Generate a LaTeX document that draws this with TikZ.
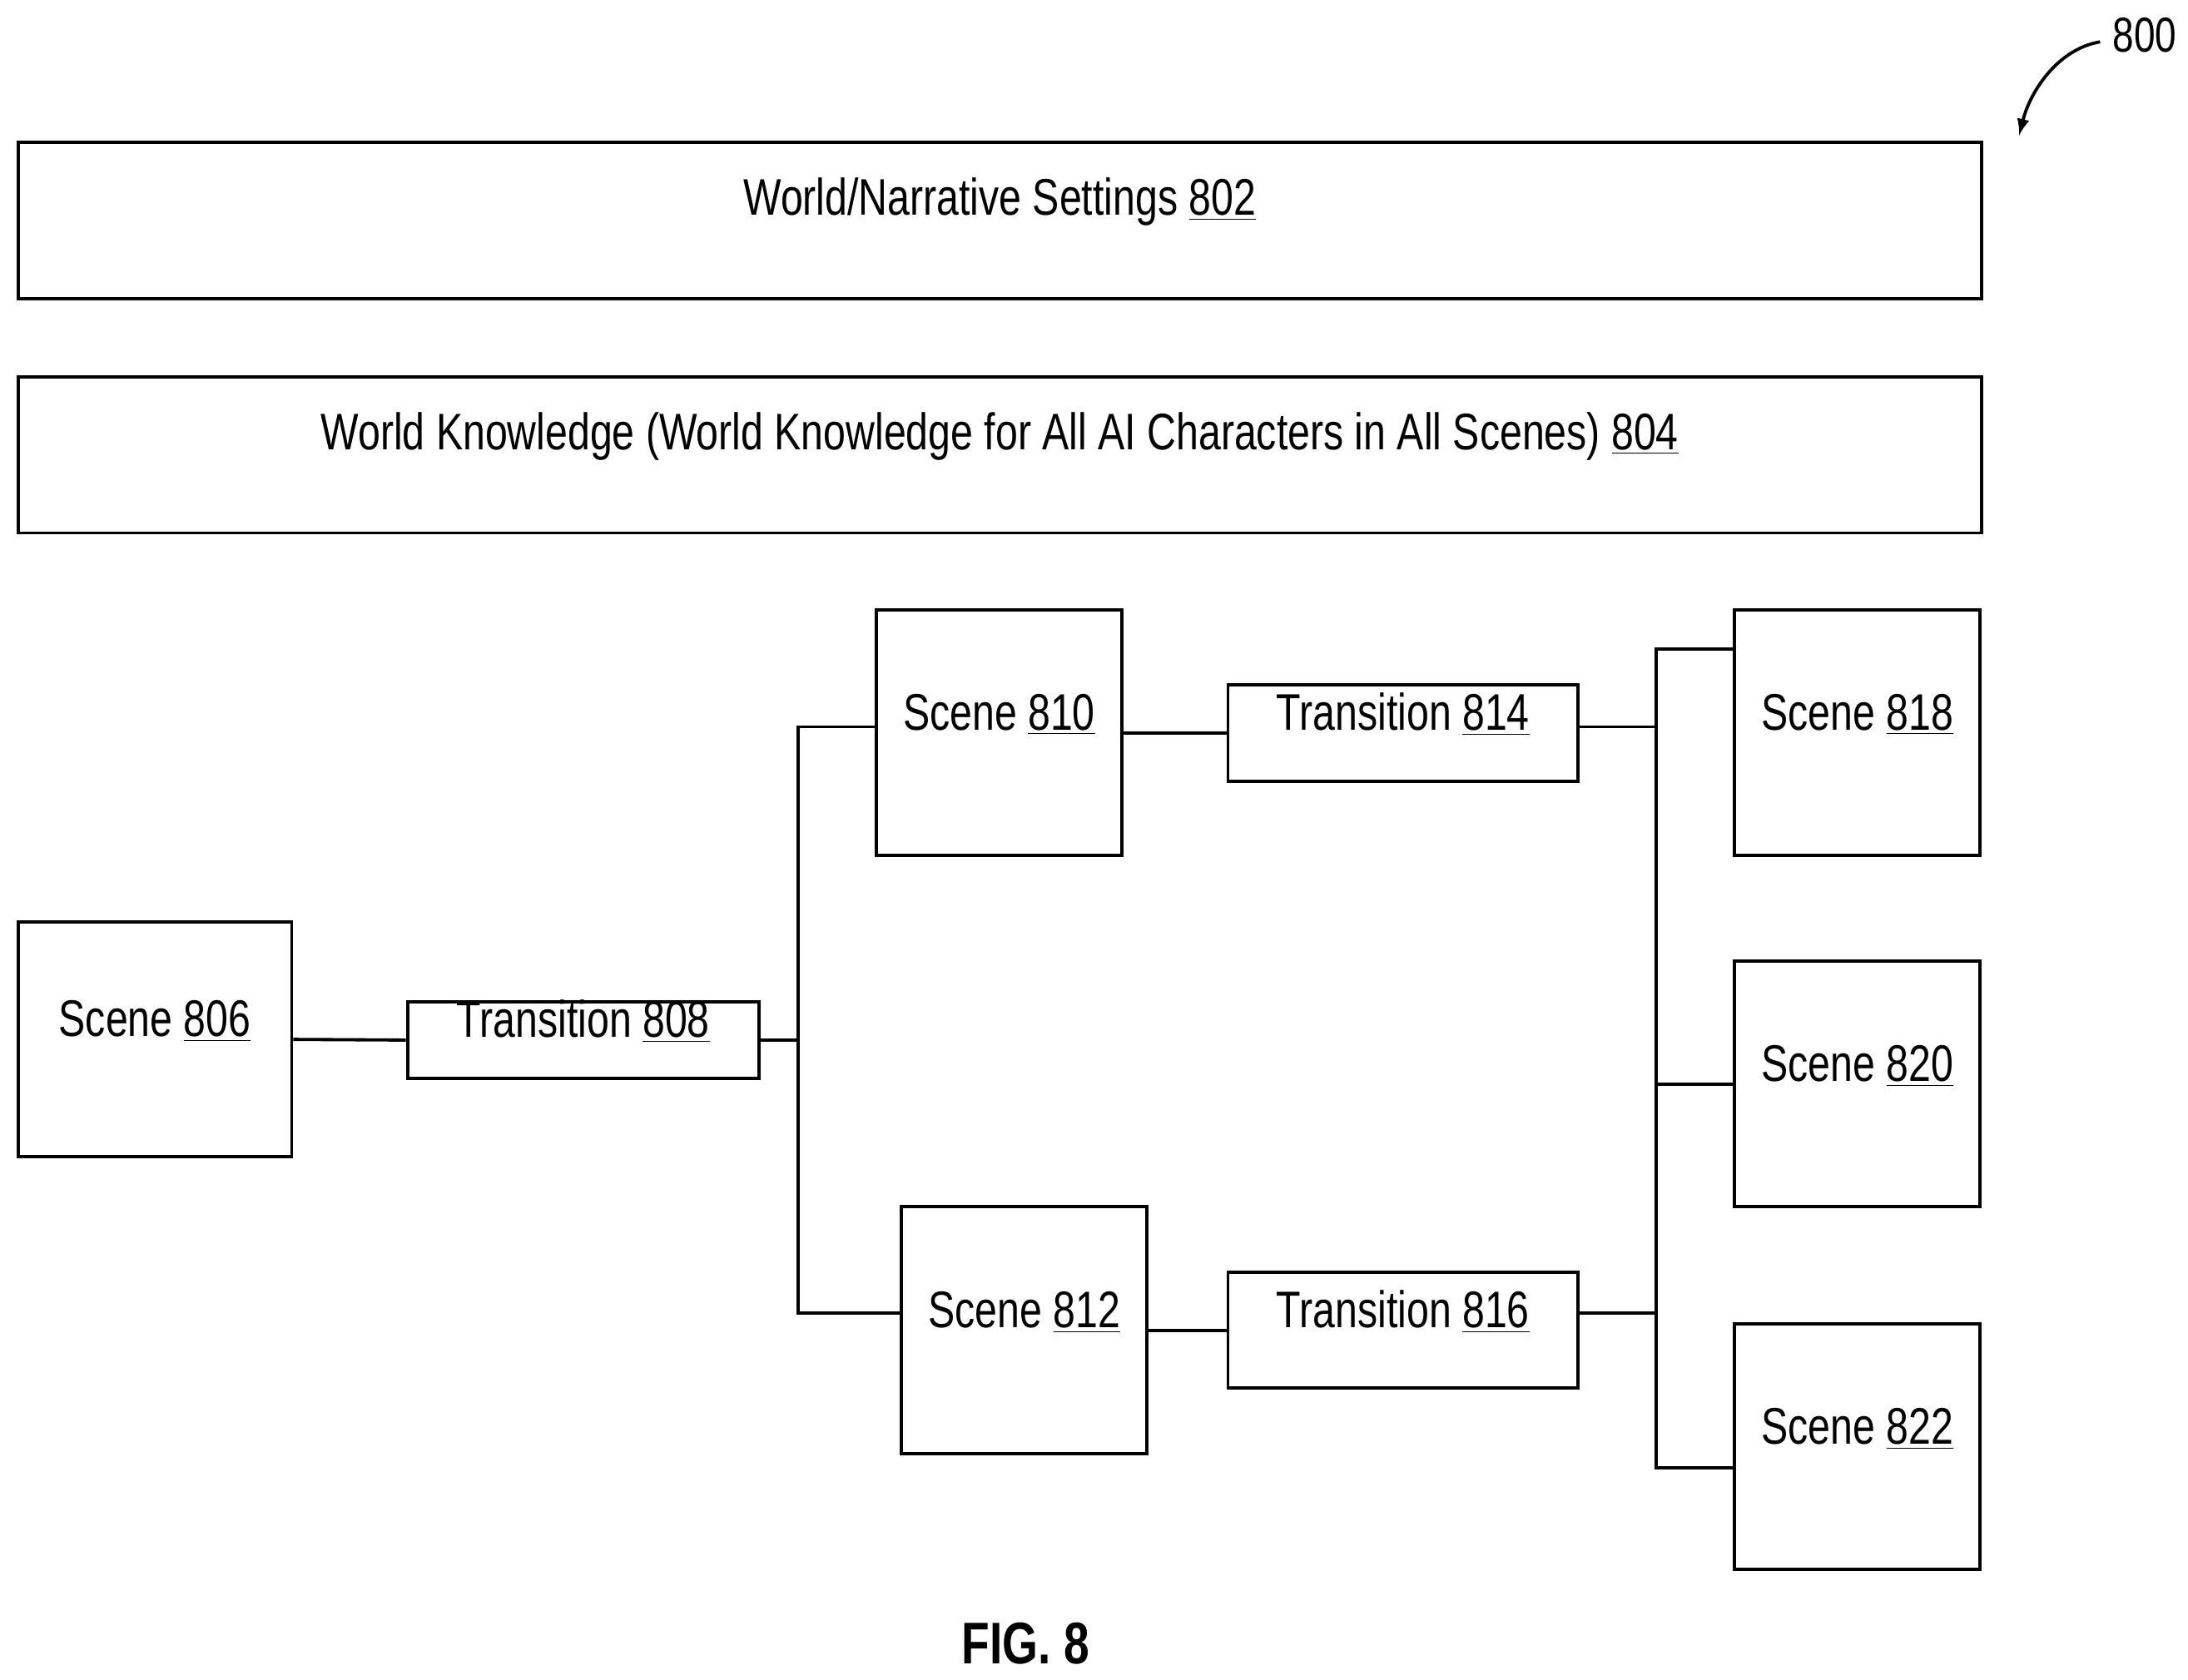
\documentclass[tikz,border=0pt]{standalone}
\usepackage{fontspec}
\setmainfont{Liberation Sans}[FakeStretch=0.78]
\usetikzlibrary{fit}
\begin{document}
\begin{tikzpicture}[x=0.02cm,y=-0.02cm,
  box/.style={draw,line width=1.3pt,inner sep=0pt,font=\fontsize{21}{24}\selectfont},
  ln/.style={line width=1.3pt}]
\useasboundingbox (0,0) rectangle (1568,1203.6);
\newcommand\bx[6]{\node[box,fit={(#2,#3)(#4,#5)}] (#1) {#6};}
\bx{n802}{13}{102}{1420}{214}{World/Narrative Settings \underline{802}}
\bx{n804}{13}{270}{1420}{382}{World Knowledge (World Knowledge for All AI Characters in All Scenes) \underline{804}}
\bx{n806}{13}{661}{209}{829}{Scene \underline{806}}
\bx{n808}{292}{718}{544}{773}{Transition \underline{808}}
\bx{n810}{628}{437}{804}{613}{Scene \underline{810}}
\bx{n812}{646}{865}{822}{1042}{Scene \underline{812}}
\bx{n814}{880}{491}{1131}{560}{Transition \underline{814}}
\bx{n816}{880}{912}{1131}{995}{Transition \underline{816}}
\bx{n818}{1243}{437}{1419}{613}{Scene \underline{818}}
\bx{n820}{1243}{689}{1419}{865}{Scene \underline{820}}
\bx{n822}{1243}{949}{1419}{1125}{Scene \underline{822}}
\coordinate (a1) at (572,521);
\coordinate (a2) at (572,941);
\coordinate (c1) at (1187,465);
\coordinate (c2) at (1187,1052);
\draw[ln] (n806.east) -- (n808.west);
\draw[ln] (n808.east) -- (n808.east -| a1);
\draw[ln] (n810.west |- a1) -- (a1) -- (a2) -- (n812.west |- a2);
\draw[ln] (n810.east |- n814.west) -- (n814.west);
\draw[ln] (n812.east |- n816.west) -- (n816.west);
\draw[ln] (n814.east |- a1) -- (a1 -| c1);
\draw[ln] (n816.east |- a2) -- (a2 -| c1);
\draw[ln] (n818.west |- c1) -- (c1) -- (c2) -- (n822.west |- c2);
\draw[ln] (n820.west) -- (n820.west -| c1);
\node[font=\fontsize{20}{24}\selectfont] (n800) at (1537,25) {800};
\coordinate (t800) at (1447,97);
\draw[line width=1.3pt,-latex] (1505,30) .. controls (1475,35) and (1455,65) .. (t800);
\node[font=\bfseries\fontsize{24}{28}\selectfont] (fig) at (735,1178) {FIG. 8};
\end{tikzpicture}
\end{document}
